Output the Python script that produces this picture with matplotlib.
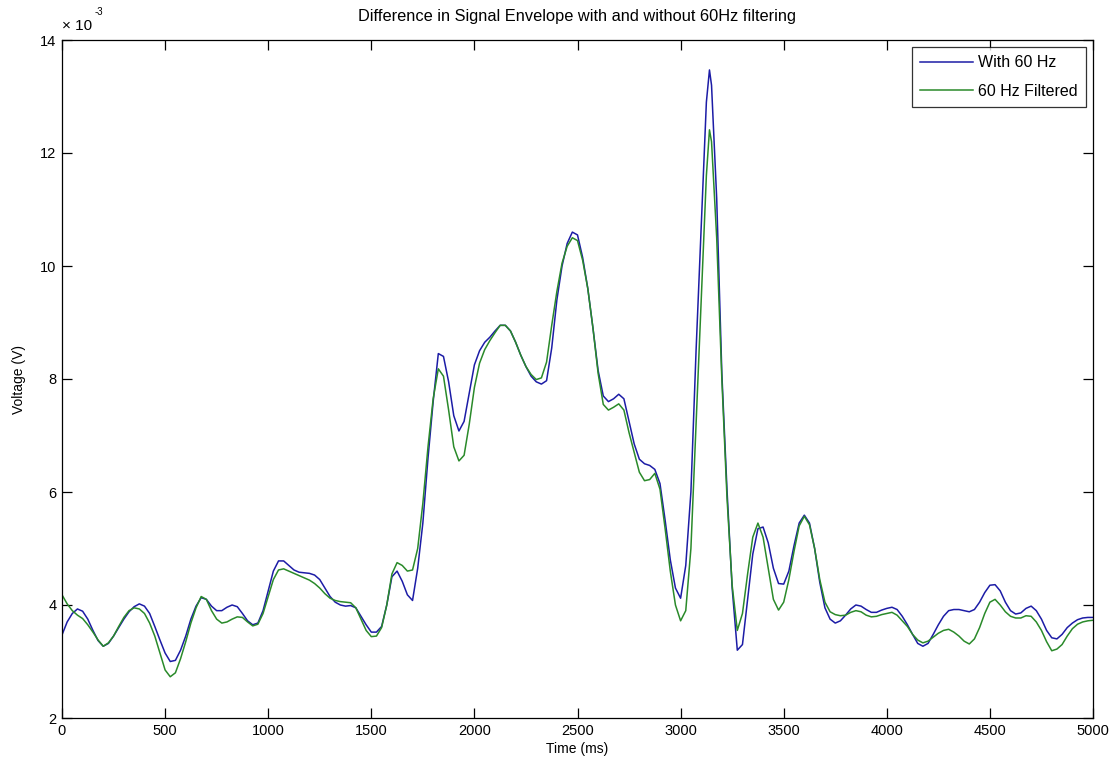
import matplotlib
matplotlib.use("Agg")
import matplotlib.pyplot as plt

plt.rcParams['font.family'] = ['Liberation Sans', 'DejaVu Sans']

# Sample times (ms)
time_ms = [
    0, 25, 50, 75, 100, 125, 150, 175, 200, 225, 250, 275, 300, 325, 350, 375,
    400, 425, 450, 475, 500, 525, 550, 575, 600, 625, 650, 675, 700, 725, 750,
    775, 800, 825, 850, 875, 900, 925, 950, 975, 1000, 1025, 1050, 1075, 1100,
    1125, 1150, 1175, 1200, 1225, 1250, 1275, 1300, 1325, 1350, 1375, 1400,
    1425, 1450, 1475, 1500, 1525, 1550, 1575, 1600, 1625, 1650, 1675, 1700,
    1725, 1750, 1775, 1800, 1825, 1850, 1875, 1900, 1925, 1950, 1975, 2000,
    2025, 2050, 2075, 2100, 2125, 2150, 2175, 2200, 2225, 2250, 2275, 2300,
    2325, 2350, 2375, 2400, 2425, 2450, 2475, 2500, 2525, 2550, 2575, 2600,
    2625, 2650, 2675, 2700, 2725, 2750, 2775, 2800, 2825, 2850, 2875, 2900,
    2925, 2950, 2975, 3000, 3025, 3050, 3075, 3100, 3125, 3140, 3150, 3175,
    3200, 3225, 3250, 3275, 3300, 3325, 3350, 3375, 3400, 3425, 3450, 3475,
    3500, 3525, 3550, 3575, 3600, 3625, 3650, 3675, 3700,
    3725, 3750, 3775, 3800, 3825, 3850, 3875, 3900, 3925, 3950, 3975, 4000,
    4025, 4050, 4075, 4100, 4125, 4150, 4175, 4200, 4225, 4250, 4275, 4300,
    4325, 4350, 4375, 4400, 4425, 4450, 4475, 4500, 4525, 4550, 4575, 4600,
    4625, 4650, 4675, 4700, 4725, 4750, 4775, 4800, 4825, 4850, 4875, 4900,
    4925, 4950, 4975, 5000,
]

# Envelope with 60 Hz present (units of 1e-3 V)
with_60hz = [
    3.47, 3.70, 3.85, 3.93, 3.89, 3.75, 3.55, 3.37, 3.27, 3.32, 3.45, 3.60,
    3.75, 3.88, 3.97, 4.02, 3.98, 3.85, 3.62, 3.38, 3.15, 3.00, 3.02, 3.20,
    3.45, 3.75, 3.98, 4.13, 4.10, 3.98, 3.90, 3.90, 3.96, 4.00, 3.97, 3.85,
    3.72, 3.65, 3.68, 3.90, 4.25, 4.60, 4.78, 4.78, 4.70, 4.62, 4.58, 4.57,
    4.56, 4.53, 4.45, 4.30, 4.15, 4.05, 4.00, 3.98, 3.99, 3.95, 3.80, 3.65,
    3.52, 3.52, 3.62, 4.00, 4.50, 4.60, 4.42, 4.18, 4.08,
    4.65, 5.45, 6.60, 7.60, 8.45, 8.40, 7.95, 7.35, 7.08, 7.25, 7.75, 8.25,
    8.50, 8.65, 8.74, 8.85, 8.95, 8.95, 8.85, 8.65, 8.42, 8.22, 8.05, 7.95,
    7.91, 7.97, 8.55, 9.40, 10.00, 10.40, 10.60, 10.55, 10.15, 9.60, 8.90, 8.15,
    7.70, 7.60, 7.65, 7.73, 7.65, 7.25, 6.85, 6.58, 6.50, 6.47, 6.40, 6.15,
    5.50, 4.80, 4.30, 4.12, 4.70, 6.00, 8.50, 10.70, 12.90, 13.47, 13.20, 11.20,
    8.10, 6.04, 4.30, 3.20, 3.30, 4.10, 4.90, 5.35, 5.38, 5.10, 4.65, 4.38,
    4.37, 4.60, 5.05, 5.45, 5.59, 5.45, 5.00, 4.40, 3.95,
    3.75, 3.68, 3.72, 3.82, 3.93, 4.00, 3.98, 3.92, 3.87, 3.87, 3.91, 3.94,
    3.96, 3.92, 3.80, 3.65, 3.48, 3.32, 3.27, 3.32, 3.48, 3.65, 3.80, 3.90,
    3.92, 3.92, 3.90, 3.88, 3.92, 4.05, 4.22, 4.35, 4.36, 4.25, 4.05, 3.90,
    3.84, 3.86, 3.94, 3.98, 3.90, 3.75, 3.55, 3.42, 3.40, 3.48, 3.60, 3.68,
    3.74, 3.77, 3.78, 3.78,
]

# Envelope after 60 Hz notch filtering (units of 1e-3 V)
filtered_60hz = [
    4.18, 4.02, 3.90, 3.82, 3.76, 3.65, 3.52, 3.38, 3.27, 3.33, 3.45, 3.62,
    3.78, 3.90, 3.95, 3.93, 3.85, 3.68, 3.45, 3.15, 2.85, 2.73, 2.80, 3.05,
    3.35, 3.68, 3.95, 4.15, 4.10, 3.90, 3.75, 3.68, 3.70, 3.75, 3.79, 3.78,
    3.70, 3.63, 3.66, 3.85, 4.15, 4.45, 4.62, 4.64, 4.60, 4.56, 4.52, 4.48,
    4.44, 4.38, 4.30, 4.20, 4.12, 4.08, 4.06, 4.05, 4.04, 3.95, 3.75, 3.55,
    3.44, 3.45, 3.60, 4.00, 4.55, 4.75, 4.70, 4.60, 4.62,
    5.00, 5.80, 6.80, 7.65, 8.18, 8.05, 7.45, 6.80, 6.55, 6.65, 7.20, 7.85,
    8.28, 8.52, 8.68, 8.82, 8.95, 8.95, 8.85, 8.65, 8.42, 8.22, 8.08, 7.99,
    8.02, 8.30, 8.95, 9.55, 10.05, 10.35, 10.50, 10.45, 10.10, 9.60, 8.90, 8.10,
    7.55, 7.45, 7.50, 7.56, 7.45, 7.05, 6.70, 6.35, 6.20, 6.22, 6.33, 6.05,
    5.35, 4.60, 4.00, 3.72, 3.90, 5.00, 7.20, 9.40, 11.60, 12.41, 12.20, 10.50,
    8.00, 5.90, 4.35, 3.55, 3.85, 4.55, 5.20, 5.45, 5.20, 4.65, 4.10, 3.91,
    4.05, 4.45, 4.95, 5.40, 5.57, 5.42, 5.00, 4.45, 4.05,
    3.88, 3.83, 3.81, 3.82, 3.87, 3.90, 3.88, 3.82, 3.79, 3.80, 3.83, 3.85,
    3.87, 3.82, 3.72, 3.62, 3.48, 3.38, 3.33, 3.36, 3.43, 3.50, 3.55, 3.57,
    3.52, 3.45, 3.36, 3.31, 3.40, 3.60, 3.85, 4.05, 4.10, 4.00, 3.88, 3.80,
    3.77, 3.77, 3.81, 3.80, 3.70, 3.55, 3.35, 3.19, 3.22, 3.30, 3.45, 3.58,
    3.66, 3.70, 3.72, 3.73,
]

series_labels = ["With 60 Hz", "60 Hz Filtered"]
x_ticks = [0, 500, 1000, 1500, 2000, 2500, 3000, 3500, 4000, 4500, 5000]
y_ticks = [2, 4, 6, 8, 10, 12, 14]

W, H = 1118, 767
fig = plt.figure(figsize=(W / 100, H / 100), dpi=100)
ax = fig.add_axes([62 / W, 1 - 718 / H, (1093 - 62) / W, (718 - 40) / H])

ax.plot(time_ms, with_60hz, color="#1c1ca6", lw=1.1, label=series_labels[0])
ax.plot(time_ms, filtered_60hz, color="#2a8a2a", lw=1.1, label=series_labels[1])

ax.set_xlim(0, 5000)
ax.set_ylim(2, 14)
ax.set_xticks(x_ticks)
ax.set_yticks(y_ticks)
ax.tick_params(direction="in", length=7, width=0.9, top=True, right=True,
               labelsize=10.5, pad=4)
for sp in ax.spines.values():
    sp.set_linewidth(0.9)

fig.text(577.5 / W, 1 - 17 / H,
         "Difference in Signal Envelope with and without 60Hz filtering",
         fontsize=11.8, ha="center", va="center")
ax.set_xlabel("Time (ms)", fontsize=10, labelpad=3)
ax.set_ylabel("Voltage (V)", fontsize=10, labelpad=10)

# Exponent for the y axis
fig.text(62 / W, 1 - 26 / H, "\u00d7 10", fontsize=11, ha="left", va="center")
fig.text(95 / W, 1 - 12 / H, "-3", fontsize=7, ha="left", va="center")

leg = ax.legend(loc="upper right", fontsize=11.5, frameon=True, fancybox=False,
                edgecolor="black", handlelength=3.3, handletextpad=0.35,
                borderpad=0.5, labelspacing=0.85, borderaxespad=0.45)
leg.get_frame().set_linewidth(0.9)

fig.savefig("out.png", dpi=100)
